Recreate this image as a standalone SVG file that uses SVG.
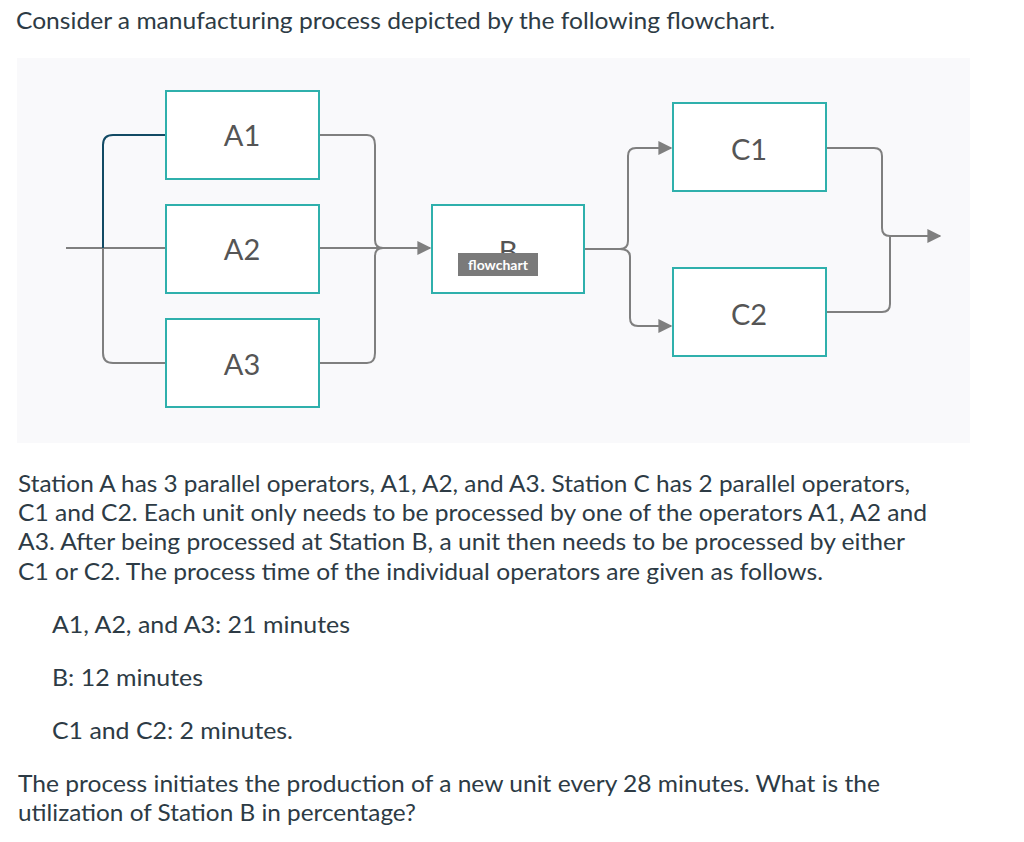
<svg xmlns="http://www.w3.org/2000/svg" width="1024" height="842" viewBox="0 0 1024 842">
<style>
.t{font-family:Lato,"Liberation Sans",sans-serif;font-size:23px;fill:#2d3b45}
.n{fill:#fff;stroke:#2fb0ac;stroke-width:2}
.l{font-family:Lato,"Liberation Sans",sans-serif;font-size:29px;fill:#555;text-anchor:middle}
.c{fill:none;stroke:#7f7f7f;stroke-width:2}
</style>
<defs><marker id="ar" viewBox="0 0 10 10" refX="9" refY="5" markerWidth="14" markerHeight="14" markerUnits="userSpaceOnUse" orient="auto"><path d="M0 0L10 5L0 10z" fill="#7f7f7f"/></marker></defs>
<rect width="1024" height="842" fill="#fff"/>
<text class="t" x="16" y="29" textLength="759" lengthAdjust="spacingAndGlyphs">Consider a manufacturing process depicted by the following flowchart.</text>
<rect x="17" y="58" width="953" height="385" fill="#f9f9fb"/>
<g id="connectors">
<path class="c" d="M66 248H166"/>
<path class="c" d="M103 248V353Q103 363 113 363H166"/>
<path fill="none" stroke="#124a64" stroke-width="2" d="M103 248V145Q103 135 113 135H166"/>
<path class="c" d="M319 135H367Q375 135 375 145V240Q375 248 383 248"/>
<path class="c" d="M319 363H367Q375 363 375 353V256Q375 248 383 248"/>
<path class="c" d="M319 248H430" marker-end="url(#ar)"/>
<path class="c" d="M584 249H620Q628 249 628 241V156Q628 148 636 148H671" marker-end="url(#ar)"/>
<path class="c" d="M620 249Q630 249 630 257V318Q630 326 638 326H671" marker-end="url(#ar)"/>
<path class="c" d="M826 148H874Q882 148 882 156V228Q882 236 890 236H940" marker-end="url(#ar)"/>
<path class="c" d="M826 312H882Q890 312 890 304V236"/>
</g>
<g id="A1"><rect class="n" x="166" y="91" width="153" height="88"/><text class="l" x="242" y="146">A1</text></g>
<g id="A2"><rect class="n" x="166" y="205" width="153" height="88"/><text class="l" x="242" y="260">A2</text></g>
<g id="A3"><rect class="n" x="166" y="319" width="153" height="88"/><text class="l" x="242" y="375">A3</text></g>
<g id="B"><rect class="n" x="432" y="205" width="152" height="88"/><text class="l" x="508" y="262">B</text>
<rect x="458" y="253" width="80" height="23" fill="#7a7a7a"/><text x="498" y="270" font-family="Lato,'Liberation Sans',sans-serif" font-size="14" fill="#fff" text-anchor="middle" font-weight="bold">flowchart</text></g>
<g id="C1"><rect class="n" x="673" y="103" width="153" height="88"/><text class="l" x="749" y="160">C1</text></g>
<g id="C2"><rect class="n" x="673" y="268" width="153" height="88"/><text class="l" x="749" y="325">C2</text></g>
<text class="t" x="18" y="492" textLength="892" lengthAdjust="spacingAndGlyphs">Station A has 3 parallel operators, A1, A2, and A3. Station C has 2 parallel operators,</text>
<text class="t" x="18" y="521" textLength="909" lengthAdjust="spacingAndGlyphs">C1 and C2. Each unit only needs to be processed by one of the operators A1, A2 and</text>
<text class="t" x="18" y="550" textLength="887" lengthAdjust="spacingAndGlyphs">A3. After being processed at Station B, a unit then needs to be processed by either</text>
<text class="t" x="18" y="580" textLength="805" lengthAdjust="spacingAndGlyphs">C1 or C2. The process time of the individual operators are given as follows.</text>
<text class="t" x="52" y="633" textLength="298" lengthAdjust="spacingAndGlyphs">A1, A2, and A3: 21 minutes</text>
<text class="t" x="52" y="686" textLength="151" lengthAdjust="spacingAndGlyphs">B: 12 minutes</text>
<text class="t" x="52" y="739" textLength="241" lengthAdjust="spacingAndGlyphs">C1 and C2: 2 minutes.</text>
<text class="t" x="18" y="792" textLength="862" lengthAdjust="spacingAndGlyphs">The process initiates the production of a new unit every 28 minutes. What is the</text>
<text class="t" x="18" y="821" textLength="398" lengthAdjust="spacingAndGlyphs">utilization of Station B in percentage?</text>
</svg>
